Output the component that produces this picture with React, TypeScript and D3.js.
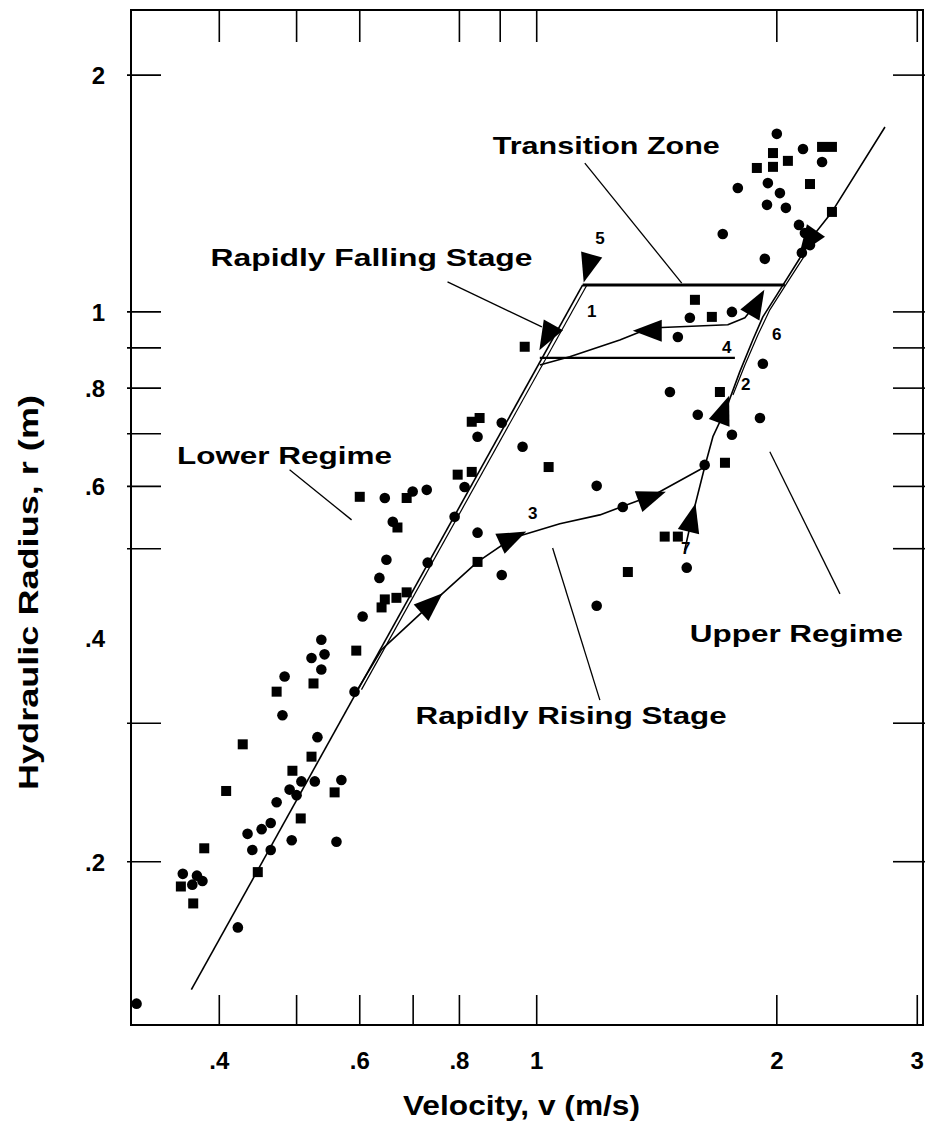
import React from "react";
import * as d3 from "d3";

const W = 925;
const H = 1145;

// ---------- axes ----------
const xDomain: [number, number] = [0.31, 3.05];
const yDomain: [number, number] = [0.124, 2.42];
const xTicksBottom = [0.4, 0.5, 0.6, 0.7, 0.8, 1, 2, 3];
const xTicksTop = [0.4, 0.5, 0.6, 0.8, 0.9, 1, 2, 3];
const xTickLabels = [
  { text: ".4", v: 0.4 },
  { text: ".6", v: 0.6 },
  { text: ".8", v: 0.8 },
  { text: "1", v: 1 },
  { text: "2", v: 2 },
  { text: "3", v: 3 },
];
const yTicks = [0.2, 0.3, 0.5, 0.6, 0.7, 0.8, 0.9, 1, 2];
const yTickLabels = [
  { text: "2", r: 2 },
  { text: "1", r: 1 },
  { text: ".8", r: 0.8 },
  { text: ".6", r: 0.6 },
  { text: ".4", r: 0.385 },
  { text: ".2", r: 0.2 },
];
const xTitle = "Velocity, v (m/s)";
const yTitle = "Hydraulic Radius, r (m)";

// ---------- observations [velocity, hydraulic radius] ----------
const circlePoints: [number, number][] = [
  [2.0, 1.684], [2.157, 1.611], [2.279, 1.551], [1.787, 1.437], [1.949, 1.458],
  [2.018, 1.416], [1.944, 1.368], [2.053, 1.356], [2.132, 1.29], [1.711, 1.256],
  [2.169, 1.26], [2.201, 1.216], [2.15, 1.189], [1.932, 1.168], [1.556, 0.983],
  [1.757, 1.0], [1.503, 0.929], [1.921, 0.859], [1.469, 0.791], [1.592, 0.74],
  [1.905, 0.733], [1.757, 0.698], [1.624, 0.639], [1.282, 0.565], [1.542, 0.473],
  [1.189, 0.423], [1.189, 0.601], [0.904, 0.463], [0.843, 0.524], [0.96, 0.674],
  [0.904, 0.723], [0.843, 0.694], [0.812, 0.599], [0.789, 0.549], [0.645, 0.58],
  [0.699, 0.591], [0.728, 0.594], [0.66, 0.541], [0.648, 0.484], [0.635, 0.459],
  [0.73, 0.48], [0.605, 0.41], [0.537, 0.383], [0.522, 0.363], [0.542, 0.367],
  [0.537, 0.351], [0.483, 0.344], [0.48, 0.307], [0.591, 0.329], [0.531, 0.288],
  [0.507, 0.253], [0.527, 0.253], [0.49, 0.247], [0.5, 0.243], [0.569, 0.254],
  [0.472, 0.238], [0.434, 0.217], [0.452, 0.22], [0.464, 0.224], [0.44, 0.207],
  [0.464, 0.207], [0.493, 0.213], [0.561, 0.212], [0.36, 0.193], [0.375, 0.192],
  [0.37, 0.187], [0.381, 0.189], [0.422, 0.165], [0.315, 0.132],
];
const squarePoints: [number, number][] = [
  [1.978, 1.592], [2.279, 1.621], [2.345, 1.621], [2.065, 1.556], [1.888, 1.524],
  [1.978, 1.529], [2.201, 1.454], [2.345, 1.34], [1.579, 1.036], [1.658, 0.9855],
  [0.966, 0.903], [1.697, 0.791], [1.722, 0.643], [1.447, 0.518], [1.503, 0.518],
  [1.301, 0.467], [0.843, 0.481], [1.035, 0.635], [0.829, 0.725], [0.848, 0.733],
  [0.796, 0.621], [0.829, 0.626], [0.6, 0.582], [0.687, 0.58], [0.669, 0.532],
  [0.687, 0.44], [0.645, 0.431], [0.667, 0.433], [0.639, 0.421], [0.594, 0.371],
  [0.472, 0.329], [0.525, 0.337], [0.428, 0.282], [0.522, 0.272], [0.494, 0.261],
  [0.558, 0.245], [0.408, 0.246], [0.506, 0.227], [0.383, 0.208], [0.447, 0.194],
  [0.358, 0.186], [0.371, 0.177],
];

// ---------- hysteresis paths [velocity, hydraulic radius] ----------
const lowerRegimeLine: [number, number][] = [[0.369, 0.1375], [1.142, 1.082]];
const lowerRegimeLineB: [number, number][] = [[0.603, 0.331], [1.156, 1.082]];
const risingStage: [number, number][] = [
  [0.594, 0.329], [0.639, 0.372], [0.74, 0.427], [0.843, 0.481], [0.933, 0.516],
  [1.069, 0.538], [1.2, 0.552], [1.406, 0.586], [1.624, 0.635], [1.663, 0.694],
  [1.731, 0.757], [1.797, 0.839], [1.866, 0.921], [1.921, 0.9855], [2.0, 1.051],
  [2.138, 1.171], [2.201, 1.235], [2.345, 1.34], [2.733, 1.718],
];
const upperRegimeLineB: [number, number][] = [
  [1.762, 0.784], [1.824, 0.856], [1.894, 0.935], [1.96, 1.006], [2.059, 1.088], [2.169, 1.181],
];
const startBranch: [number, number][] = [[1.533, 0.498], [1.565, 0.547], [1.624, 0.635]];
const transitionTop: [number, number][] = [[1.142, 1.082], [2.047, 1.082]];
const transitionMid: [number, number][] = [
  [1.888, 1.027], [1.824, 0.983], [1.736, 0.963], [1.386, 0.954], [1.271, 0.921],
  [1.1, 0.877], [1.009, 0.856],
];
const transitionLow: [number, number][] = [[1.009, 0.874], [1.772, 0.874]];

// arrows [velocity, radius, screen angle in degrees]
const arrows: [number, number, number][] = [
  [1.159, 1.137, 106], [1.029, 0.929, 119], [1.378, 0.946, 180], [0.738, 0.426, -42],
  [0.933, 0.516, -25], [1.394, 0.582, -20], [1.565, 0.547, -76], [1.717, 0.751, -70],
  [1.888, 1.027, -60], [2.188, 1.227, 125],
];

// event numbers
const eventLabels = [
  { text: "1", v: 1.172, r: 1.006 },
  { text: "2", v: 1.829, r: 0.812 },
  { text: "3", v: 0.9885, r: 0.557 },
  { text: "4", v: 1.731, r: 0.905 },
  { text: "5", v: 1.2, r: 1.245 },
  { text: "6", v: 2.0, r: 0.94 },
  { text: "7", v: 1.538, r: 0.503 },
];

// annotations: text start (v,r) at baseline, rendered width, leader line
const annotations = [
  { text: "Transition Zone", v: 0.881, r: 1.588, len: 227, leader: [[1.149, 1.546], [1.52, 1.088]] },
  { text: "Rapidly Falling Stage", v: 0.39, r: 1.144, len: 322, leader: [[0.773, 1.092], [1.015, 0.957]] },
  { text: "Lower Regime", v: 0.354, r: 0.641, len: 215, leader: [[0.49, 0.63], [0.586, 0.544]] },
  { text: "Upper Regime", v: 1.556, r: 0.38, len: 213, leader: [[1.96, 0.664], [2.4, 0.438]] },
  { text: "Rapidly Rising Stage", v: 0.705, r: 0.299, len: 311, leader: [[1.047, 0.501], [1.2, 0.321]] },
];

const FONT = "'Liberation Sans', Arial, Helvetica, sans-serif";

export default function App() {
  const x = d3.scaleLog().domain(xDomain).range([131, 923]);
  const y = d3.scaleLog().domain(yDomain).range([1025, 10]);
  const left = x.range()[0];
  const right = x.range()[1];
  const top = y.range()[1];
  const bottom = y.range()[0];
  const tickLen = 30;

  const line = d3
    .line<[number, number]>()
    .x((d) => x(d[0]))
    .y((d) => y(d[1]));

  const arrowPath = "M15,0 L-14,-11 L-14,11 Z";

  return (
    <svg
      width={W}
      height={H}
      viewBox={`0 0 ${W} ${H}`}
      style={{ position: "absolute", left: 0, top: 0, background: "#fff" }}
    >
      <rect x={0} y={0} width={W} height={H} fill="#fff" />

      {/* frame */}
      <rect x={left} y={top} width={right - left} height={bottom - top} fill="none" stroke="#000" strokeWidth={2} />

      {/* x ticks */}
      {xTicksBottom.map((t) => (
        <line key={"xb" + t} x1={x(t)} x2={x(t)} y1={bottom} y2={bottom - tickLen} stroke="#000" strokeWidth={1.6} />
      ))}
      {xTicksTop.map((t) => (
        <line key={"xt" + t} x1={x(t)} x2={x(t)} y1={top} y2={top + tickLen + 2} stroke="#000" strokeWidth={1.6} />
      ))}
      {xTickLabels.map((t) => (
        <text key={"xl" + t.text} x={x(t.v)} y={bottom + 44} textAnchor="middle" fontFamily={FONT} fontWeight="bold" fontSize={24}>
          {t.text}
        </text>
      ))}

      {/* y ticks */}
      {yTicks.map((t) => (
        <g key={"y" + t}>
          <line x1={left - 4} x2={left + tickLen} y1={y(t)} y2={y(t)} stroke="#000" strokeWidth={1.6} />
          <line x1={right - tickLen} x2={right + 2} y1={y(t)} y2={y(t)} stroke="#000" strokeWidth={1.6} />
        </g>
      ))}
      {yTickLabels.map((t) => (
        <text key={"yl" + t.text} x={left - 26} y={y(t.r) + 9} textAnchor="end" fontFamily={FONT} fontWeight="bold" fontSize={24}>
          {t.text}
        </text>
      ))}

      {/* axis titles */}
      <text x={403} y={1115} fontFamily={FONT} fontWeight="bold" fontSize={27} textLength={237} lengthAdjust="spacingAndGlyphs">
        {xTitle}
      </text>
      <text
        transform={`translate(38, 790) rotate(-90)`}
        fontFamily={FONT}
        fontWeight="bold"
        fontSize={27}
        textLength={395}
        lengthAdjust="spacingAndGlyphs"
      >
        {yTitle}
      </text>

      {/* hysteresis lines */}
      <g fill="none" stroke="#000" strokeLinejoin="round">
        <path d={line(lowerRegimeLine) || ""} strokeWidth={1.6} />
        <path d={line(lowerRegimeLineB) || ""} strokeWidth={1.2} />
        <path d={line(risingStage) || ""} strokeWidth={1.6} />
        <path d={line(upperRegimeLineB) || ""} strokeWidth={1.2} />
        <path d={line(startBranch) || ""} strokeWidth={1.6} />
        <path d={line(transitionTop) || ""} strokeWidth={3} />
        <path d={line(transitionMid) || ""} strokeWidth={1.6} />
        <path d={line(transitionLow) || ""} strokeWidth={2.2} />
      </g>

      {/* arrows */}
      {arrows.map((a, i) => (
        <path key={"a" + i} d={arrowPath} transform={`translate(${x(a[0])},${y(a[1])}) rotate(${a[2]})`} fill="#000" />
      ))}

      {/* data points */}
      {circlePoints.map((p, i) => (
        <circle key={"c" + i} cx={x(p[0])} cy={y(p[1])} r={5.3} fill="#000" />
      ))}
      {squarePoints.map((p, i) => (
        <rect key={"s" + i} x={x(p[0]) - 5} y={y(p[1]) - 5} width={10} height={10} fill="#000" />
      ))}

      {/* event numbers */}
      {eventLabels.map((e) => (
        <text key={"e" + e.text} x={x(e.v)} y={y(e.r) + 7} textAnchor="middle" fontFamily={FONT} fontWeight="bold" fontSize={17}>
          {e.text}
        </text>
      ))}

      {/* annotations */}
      {annotations.map((a) => (
        <g key={a.text}>
          <text x={x(a.v)} y={y(a.r)} fontFamily={FONT} fontWeight="bold" fontSize={24} textLength={a.len} lengthAdjust="spacingAndGlyphs">
            {a.text}
          </text>
          <line
            x1={x(a.leader[0][0])}
            y1={y(a.leader[0][1])}
            x2={x(a.leader[1][0])}
            y2={y(a.leader[1][1])}
            stroke="#000"
            strokeWidth={1.3}
          />
        </g>
      ))}
    </svg>
  );
}
